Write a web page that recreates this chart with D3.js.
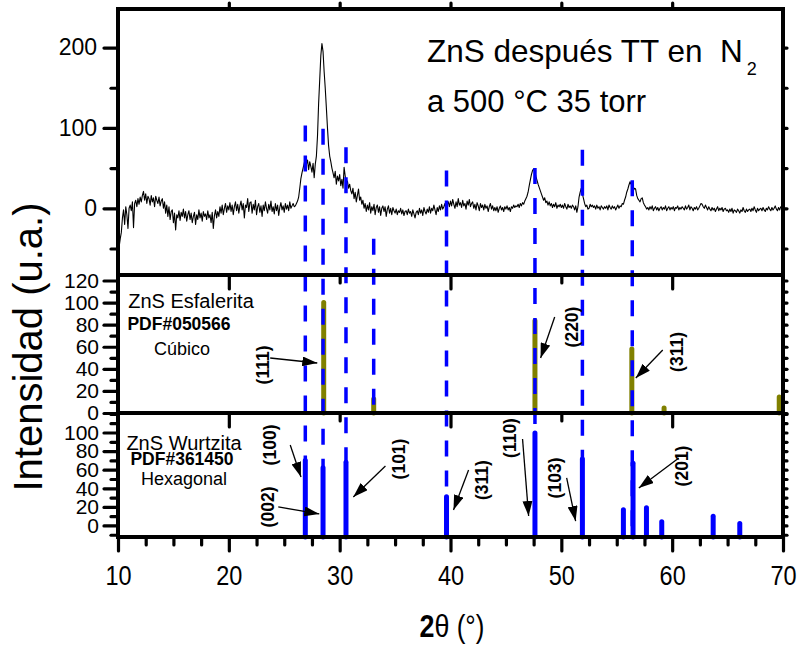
<!DOCTYPE html>
<html>
<head>
<meta charset="utf-8">
<script src="https://cdn.jsdelivr.net/npm/d3@7"></script>
<style>
  body { margin: 0; background: #fff; }
  svg { display: block; }
</style>
</head>
<body>
<svg id="chart" width="800" height="645"></svg>
<script>
// ---- XRD scan: ZnS after thermal treatment (0.1° step, 10°–70°) ----
const scanStart = 10;
const scanStep = 0.1;
const intensity = [
  -65,-48,-38,-30,-12,-2,-20,2,-8,-25,
  0,4,-3,8,-24,6,10,2,12,5,
  14,8,16,21,10,18,6,15,12,4,
  16,8,13,2,15,10,6,14,3,9,
  12,0,8,-6,4,-10,2,-14,-4,-2,
  -18,-6,-27,-8,-12,-3,-15,-5,-10,-1,
  -12,-4,-16,-8,-3,-14,-6,-18,-10,-5,
  -20,-8,-14,-2,-12,-6,-16,-4,-10,-7,
  -14,-3,-12,-8,-18,-5,-25,-9,-2,-12,
  -4,-10,2,-6,4,-8,0,6,-5,3,
  -2,7,-4,4,-8,2,8,-3,5,-6,
  3,9,-2,6,-12,4,1,12,-4,7,
  8,-6,5,-2,10,-8,2,6,-5,3,
  -10,4,-3,8,0,-6,5,-2,9,-4,
  2,-7,6,-3,4,-9,1,7,-2,3,
  -5,6,-1,4,-3,8,0,3,6,2,
  3,6,9,14,25,37,44,50,56,62,
  55,60,48,58,52,45,56,38,55,65,
  90,130,160,190,205,195,170,149,125,100,
  78,65,58,50,44,38,46,30,40,34,
  42,28,36,25,51,40,30,34,25,30,
  22,18,25,12,20,8,16,24,10,14,
  5,10,0,6,-4,4,-2,7,-6,2,
  -3,5,-8,1,4,-5,2,-9,0,3,
  -4,2,-10,-1,3,-6,0,-8,1,-3,
  -6,-1,-8,-3,-5,0,-7,-2,-9,-4,
  -3,-8,-1,-6,-4,-10,-2,-7,-12,-5,
  -3,-8,0,-6,-2,-9,1,-4,-7,-1,
  -5,2,-6,0,-3,4,-2,-8,1,-4,
  3,-2,5,-1,2,6,-3,4,8,2,
  9,3,11,5,0,8,2,12,4,7,
  1,10,3,6,-1,9,4,11,2,6,
  8,0,5,-2,7,3,-3,6,1,4,
  -2,5,0,3,-4,2,6,-1,3,-3,
  1,-3,2,-5,0,3,-2,1,-4,2,
  -1,3,-2,1,-4,2,0,4,1,3,
  2,5,1,6,3,7,5,9,12,15,
  20,28,35,42,47,49,46,40,35,30,
  26,22,18,14,10,13,7,9,4,8,
  3,6,1,5,2,7,0,4,2,5,
  1,4,0,6,2,-1,5,1,3,0,
  4,2,-2,3,-5,2,14,20,25,18,
  12,6,2,4,-1,0,5,2,4,1,
  3,-1,4,0,2,-2,3,1,-1,2,
  0,3,-2,4,1,-1,3,0,2,-2,
  1,4,0,3,2,6,5,10,14,20,
  24,29,33,30,26,22,25,24,16,12,
  10,8,12,13,7,4,2,-1,1,-2,
  2,-1,3,-3,0,2,-2,1,-3,0,
  2,-2,1,-1,3,-3,0,2,-2,1,
  -1,2,-3,1,0,3,-2,1,-1,2,
  0,-2,3,-1,1,4,-2,2,0,-3,
  1,-1,2,-2,0,3,6,5,2,0,
  4,1,-2,2,-1,-3,1,-2,0,-4,
  -1,2,-3,0,-2,1,-4,-1,0,-3,
  -2,-5,-1,-4,0,-6,-2,-3,-5,-1,
  -3,-6,-2,-4,1,-3,-5,-1,-4,-2,
  -1,-4,0,-3,2,-2,-5,0,-3,-1,
  0,-3,1,-2,-4,0,-2,2,-1,-3,
  1,-2,0,3,-1,-3,1,-2,2,0,
  2
];

// ---- Reference patterns ----
// Sphalerite (cubic), PDF#050566
const cubicPos = [28.56, 33.07, 47.62, 56.36, 59.27, 69.66];
const cubicInt = [100, 12.7, 83.6, 58, 4.5, 14.5];
// Wurtzite (hexagonal), PDF#361450
const hexPos = [26.9, 28.5, 30.57, 39.64, 47.62, 51.9, 55.6, 56.47, 57.68, 59.06, 63.7, 66.1];
const hexInt = [70, 62, 68, 31, 99.5, 71.5, 17, 67, 19, 4, 10, 2];

// Dashed guide lines: angle, start height (scan units), panel where they stop
const guidePos = [26.9, 28.5, 30.57, 33.07, 39.64, 47.62, 51.9, 56.4];
const guideTop = [103, 99, 76, -38, 47, 50, 73, 35];
const guideEnd = ["hex", "hex", "hex", "cub", "hex", "hex", "hex", "hex"];

// Miller-index callouts: panel, label, label position, arrow start/end (data units)
const hklPanel = ["cub", "cub", "cub", "hex", "hex", "hex", "hex", "hex", "hex", "hex"];
const hklText  = ["(111)", "(220)", "(311)", "(100)", "(002)", "(101)", "(311)", "(110)", "(103)", "(201)"];
const hklAt    = [[23.01, 43.5], [50.93, 77.9], [60.42, 55.3], [23.73, 86.6], [23.55, 19.9],
                  [35.3, 71.5], [42.8, 48.9], [45.33, 94.1], [49.4, 51.1], [60.87, 64]];
const hklFrom  = [[23.73, 49.8], [49.4, 87], [59.15, 57.1], [25.54, 86.6], [24.46, 19.9],
                  [34.13, 64], [41.63, 59.7], [46.5, 93], [50.48, 51.1], [60.6, 72.6]];
const hklTo    = [[27.98, 45.3], [48.13, 49.8], [56.72, 31.7], [26.51, 52.2], [28.16, 12.4],
                  [31.23, 30.6], [40.27, 16.7], [47.05, 10.2], [51.29, 4.8], [56.99, 40.3]];

// ---- Tick values ----
const xMajor = [10, 20, 30, 40, 50, 60, 70];
const xMinor = [12.5, 15, 17.5, 22.5, 25, 27.5, 32.5, 35, 37.5, 42.5, 45, 47.5, 52.5, 55, 57.5, 62.5, 65, 67.5];
const innerMajor = [20, 40, 60];
const innerMinor = [30, 50];
const frameTop = [20, 30, 40, 50, 60];
const topMajor = [0, 100, 200];
const topMinor = [-50, 50, 150];
const cubMajor = [0, 20, 40, 60, 80, 100, 120];
const cubMinor = [10, 30, 50, 70, 90, 110];
const hexMajor = [0, 20, 40, 60, 80, 100];
const hexMinor = [-10, 10, 30, 50, 70, 90, 110, 120];

// ---- Layout ----
const X0 = 118, X1 = 783;
const Y_TOP = 9, Y_A = 275, Y_B = 413, Y_BOT = 537;
const INK = "#000";
const BLUE = "#0000ff";
const OLIVE = "#808000";
const SANS = "'Liberation Sans', Arial, Helvetica, sans-serif";
const CONDENSE = "scale(0.84,1)";

const svg = d3.select("#chart");
const x = d3.scaleLinear().domain([10, 70]).range([X0, X1]);
const panels = {
  top: d3.scaleLinear().domain([-83, 248]).range([Y_A, Y_TOP]),
  cub: d3.scaleLinear().domain([0, 125]).range([Y_B, Y_A]),
  hex: d3.scaleLinear().domain([-12.4, 121]).range([Y_BOT, Y_B])
};

const defs = svg.append("defs");
defs.append("clipPath").attr("id", "clipTop")
  .append("rect").attr("x", X0).attr("y", Y_TOP).attr("width", X1 - X0).attr("height", Y_A - Y_TOP);
defs.append("marker").attr("id", "head")
  .attr("markerUnits", "userSpaceOnUse")
  .attr("viewBox", "0 0 15 10").attr("markerWidth", 15).attr("markerHeight", 10)
  .attr("refX", 15).attr("refY", 5).attr("orient", "auto")
  .append("path").attr("d", "M0,0 L15,5 L0,10 Z").attr("fill", INK);

// ---- Scan curve ----
const scan = intensity.map((v, i) => [scanStart + i * scanStep, v]);
svg.append("path")
  .datum(scan)
  .attr("clip-path", "url(#clipTop)")
  .attr("fill", "none")
  .attr("stroke", INK)
  .attr("stroke-width", 1.1)
  .attr("stroke-linejoin", "round")
  .attr("d", d3.line().x(d => x(d[0])).y(d => panels.top(d[1])));

// ---- Reference sticks ----
svg.append("g").selectAll("line")
  .data(cubicPos.map((p, i) => [p, cubicInt[i]]))
  .join("line")
  .attr("x1", d => x(d[0])).attr("x2", d => x(d[0]))
  .attr("y1", panels.cub(0)).attr("y2", d => panels.cub(d[1]))
  .attr("stroke", OLIVE).attr("stroke-width", 5).attr("stroke-linecap", "round");

svg.append("g").selectAll("line")
  .data(hexPos.map((p, i) => [p, hexInt[i]]))
  .join("line")
  .attr("x1", d => x(d[0])).attr("x2", d => x(d[0]))
  .attr("y1", panels.hex.range()[0]).attr("y2", d => panels.hex(d[1]))
  .attr("stroke", BLUE).attr("stroke-width", 5).attr("stroke-linecap", "round");

// ---- Dashed guide lines across panels ----
svg.append("g").selectAll("line")
  .data(guidePos.map((p, i) => ({ p, top: guideTop[i], end: guideEnd[i] })))
  .join("line")
  .attr("x1", d => x(d.p)).attr("x2", d => x(d.p))
  .attr("y1", d => panels.top(d.top))
  .attr("y2", d => panels[d.end].range()[0])
  .attr("stroke", BLUE).attr("stroke-width", 3.5)
  .attr("stroke-dasharray", "16 14");

// ---- Axes ----
function styleAxis(g, size, squeeze) {
  g.select(".domain").remove();
  g.selectAll(".tick line").attr("stroke", INK).attr("stroke-width", 3.2).attr("stroke-linecap", "round");
  const tx = g.selectAll(".tick text").attr("fill", INK).attr("font-family", SANS).attr("font-size", size);
  if (squeeze) tx.attr("transform", CONDENSE);
  g.attr("font-family", null).attr("font-size", null);
  return g;
}
function addAxis(gen, tx, ty, size = 10, squeeze = false) {
  const g = svg.append("g").attr("transform", `translate(${tx},${ty})`).call(gen);
  return styleAxis(g, size, squeeze);
}

// left axes
addAxis(d3.axisLeft(panels.top).tickValues(topMajor).tickSize(14).tickPadding(7).tickFormat(d3.format("d")), X0, 0, 23);
addAxis(d3.axisLeft(panels.top).tickValues(topMinor).tickSize(7).tickFormat(""), X0, 0);
addAxis(d3.axisLeft(panels.cub).tickValues(cubMajor).tickSize(14).tickPadding(5).tickFormat(d3.format("d")), X0, 0, 21);
addAxis(d3.axisLeft(panels.cub).tickValues(cubMinor).tickSize(7).tickFormat(""), X0, 0);
addAxis(d3.axisLeft(panels.hex).tickValues(hexMajor).tickSize(14).tickPadding(5).tickFormat(d3.format("d")), X0, 0, 21);
addAxis(d3.axisLeft(panels.hex).tickValues(hexMinor).tickSize(7).tickFormat(""), X0, 0);

// right axes
addAxis(d3.axisRight(panels.top).tickValues(topMajor.concat(topMinor)).tickSize(4).tickFormat(""), X1, 0);
addAxis(d3.axisRight(panels.cub).tickValues(cubMajor.concat(cubMinor)).tickSize(4).tickFormat(""), X1, 0);
addAxis(d3.axisRight(panels.hex).tickValues(hexMajor.concat(hexMinor)).tickSize(4).tickFormat(""), X1, 0);

// top frame ticks
addAxis(d3.axisTop(x).tickValues(frameTop).tickSize(6).tickFormat(""), 0, Y_TOP);
// ticks below the upper two panels
[Y_A, Y_B].forEach(yy => {
  addAxis(d3.axisBottom(x).tickValues(innerMajor).tickSize(14).tickFormat(""), 0, yy);
  addAxis(d3.axisBottom(x).tickValues(innerMinor).tickSize(8).tickFormat(""), 0, yy);
});
// bottom axis
addAxis(d3.axisBottom(x).tickValues(xMajor).tickSize(14).tickPadding(14).tickFormat(d3.format("d")), 0, Y_BOT, 28, true);
addAxis(d3.axisBottom(x).tickValues(xMinor).tickSize(8).tickFormat(""), 0, Y_BOT);

// frame lines
const frame = svg.append("g").attr("stroke", INK).attr("stroke-width", 4).attr("stroke-linecap", "square");
[Y_TOP, Y_A, Y_B, Y_BOT].forEach(yy => frame.append("line").attr("x1", X0).attr("x2", X1).attr("y1", yy).attr("y2", yy));
[X0, X1].forEach(xx => frame.append("line").attr("x1", xx).attr("x2", xx).attr("y1", Y_TOP).attr("y2", Y_BOT));

// ---- Miller-index callouts ----
const callouts = svg.append("g");
hklText.forEach((t, i) => {
  const y = panels[hklPanel[i]];
  callouts.append("line")
    .attr("x1", x(hklFrom[i][0])).attr("y1", y(hklFrom[i][1]))
    .attr("x2", x(hklTo[i][0])).attr("y2", y(hklTo[i][1]))
    .attr("stroke", INK).attr("stroke-width", 1.3)
    .attr("marker-end", "url(#head)");
  const cx = x(hklAt[i][0]), cy = y(hklAt[i][1]);
  callouts.append("text")
    .attr("transform", `translate(${cx},${cy}) rotate(-90)`)
    .attr("text-anchor", "middle").attr("dy", "0.36em")
    .attr("font-family", SANS).attr("font-weight", "bold").attr("font-size", 17.5)
    .attr("fill", INK).text(t);
});

// ---- Panel annotations ----
const t1 = svg.append("text").attr("x", 427).attr("y", 62)
  .attr("font-family", SANS).attr("font-size", 31.5).attr("fill", INK);
t1.append("tspan").text("ZnS después TT en\u00A0 N");
t1.append("tspan").attr("dx", 4).attr("dy", 13).attr("font-size", 18).text("2");
svg.append("text").attr("x", 427).attr("y", 112)
  .attr("font-family", SANS).attr("font-size", 31).attr("fill", INK).text("a 500 °C 35 torr");

function block(lines) {
  lines.forEach(([txt, cx, by, size, weight]) => {
    svg.append("text").attr("x", cx).attr("y", by).attr("text-anchor", "middle")
      .attr("font-family", SANS).attr("font-size", size).attr("font-weight", weight)
      .attr("fill", INK).text(txt);
  });
}
block([["ZnS Esfalerita", 191, 308, 20, "normal"], ["PDF#050566", 179, 330, 17.5, "bold"], ["Cúbico", 182, 355, 18, "normal"]]);
block([["ZnS Wurtzita", 184, 450, 20, "normal"], ["PDF#361450", 182, 465, 17.5, "bold"], ["Hexagonal", 184, 485, 18, "normal"]]);

// ---- Axis titles ----
svg.append("text")
  .attr("transform", "translate(42,347) rotate(-90)")
  .attr("text-anchor", "middle")
  .attr("font-family", SANS).attr("font-size", 40).attr("fill", INK)
  .text("Intensidad (u.a.)");
const xt = svg.append("text").attr("transform", `translate(452,637) ${CONDENSE}`)
  .attr("text-anchor", "middle")
  .attr("font-family", SANS).attr("fill", INK);
xt.append("tspan").attr("font-weight", "bold").attr("font-size", 32).text("2");
xt.append("tspan").attr("font-size", 32).text("θ");
xt.append("tspan").attr("font-size", 31).text(" (°)");
</script>
</body>
</html>
